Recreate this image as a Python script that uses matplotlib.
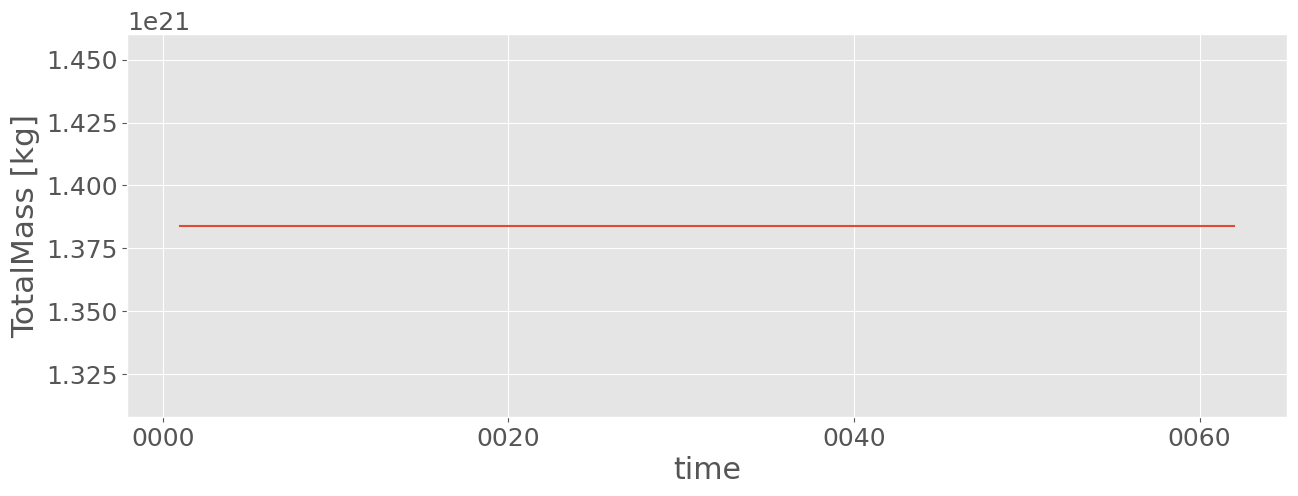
import numpy as np
import matplotlib
matplotlib.use("Agg")
import matplotlib.pyplot as plt
from matplotlib.ticker import MultipleLocator, FuncFormatter

# years of the run and total mass (constant)
years = list(range(1, 63))
total_mass = [1.384e21] * len(years)

plt.style.use("ggplot")
plt.rcParams["font.size"] = 18

fig, ax = plt.subplots(figsize=(12.98, 4.96), dpi=100)
ax.plot(years, total_mass)

ax.xaxis.set_major_locator(MultipleLocator(20))
ax.xaxis.set_major_formatter(FuncFormatter(lambda v, p: "%04d" % int(round(v))))

ax.set_xlabel("time")
ax.set_ylabel("TotalMass [kg]", fontsize=22.5)

fig.subplots_adjust(left=0.098, right=0.9915, top=0.931, bottom=0.159)
fig.savefig("out.png")
